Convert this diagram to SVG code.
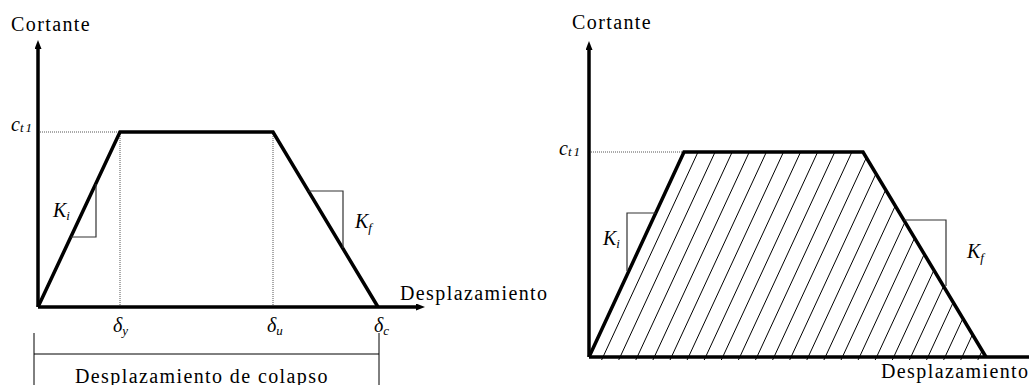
<svg xmlns="http://www.w3.org/2000/svg" width="1029" height="385" viewBox="0 0 1029 385" font-family="'Liberation Serif', 'Times New Roman', 'DejaVu Serif', serif">
<style>
  text { font-family: "Liberation Serif", "Times New Roman", "DejaVu Serif", serif; fill: #000; }
  .lbl { font-size: 20px; letter-spacing: 1.4px; }
  .it { font-size: 20px; font-style: italic; }
  .sub { font-size: 13px; font-style: italic; }
  .axis { stroke: #000; stroke-width: 3.5; fill: none; }
  .thick { stroke: #000; stroke-width: 3.5; fill: none; stroke-linejoin: miter; }
  .thin { stroke: #000; stroke-width: 1; fill: none; }
  .slope { stroke: #333; stroke-width: 1.2; fill: none; }
  .dot { stroke: #555; stroke-width: 1; stroke-dasharray: 1 1; fill: none; }
  .hatch { stroke: #000; stroke-width: 1; }
</style>
<defs>
  <marker id="arr" markerWidth="9" markerHeight="7" refX="0" refY="3.5" orient="auto" markerUnits="userSpaceOnUse">
    <path d="M0,0 L9,3.5 L0,7 z" fill="#000"/>
  </marker>
</defs>

<g id="left-chart">
  <g id="left-axes">
    <line class="axis" x1="38" y1="307" x2="38" y2="49" marker-end="url(#arr)"/>
    <line class="axis" x1="38" y1="307" x2="416" y2="307" marker-end="url(#arr)"/>
  </g>
  <g id="left-guides">
    <line class="dot" x1="40" y1="132" x2="120" y2="132"/>
    <line class="dot" x1="120" y1="132" x2="120" y2="305"/>
    <line class="dot" x1="273" y1="132" x2="273" y2="305"/>
  </g>
  <polyline id="left-curve" class="thick" points="38,307 120,132 273,132 378,307"/>
  <g id="left-slopes">
    <polyline class="slope" points="96,184 96,237 71,237"/>
    <polyline class="slope" points="308,191 343,191 343,248"/>
  </g>
  <g id="left-bracket">
    <line class="thin" x1="34" y1="333" x2="34" y2="385" stroke-width="1.5"/>
    <line class="thin" x1="379" y1="333" x2="379" y2="385" stroke-width="1.5"/>
    <line class="thin" x1="34" y1="354" x2="379" y2="354"/>
  </g>
  <g id="left-labels">
    <text class="lbl" x="11" y="31">Cortante</text>
    <text class="it" x="11" y="131">c<tspan class="sub" dy="1" letter-spacing="2">t1</tspan></text>
    <text class="it" x="53" y="217">K<tspan class="sub" dy="3">i</tspan></text>
    <text class="it" x="355" y="228">K<tspan class="sub" dy="4">f</tspan></text>
    <text class="it" x="113" y="332">δ<tspan class="sub" font-size="11" dy="3">y</tspan></text>
    <text class="it" x="267" y="332">δ<tspan class="sub" font-size="11" dy="3">u</tspan></text>
    <text class="it" x="374" y="332">δ<tspan class="sub" font-size="11" dy="3">c</tspan></text>
    <text class="lbl" x="400" y="300">Desplazamiento</text>
    <text class="lbl" x="75" y="383" letter-spacing="1.2">Desplazamiento de colapso</text>
  </g>
</g>

<g id="right-chart">
  <g id="right-hatch" class="hatch">
    <line x1="601.6" y1="360" x2="698" y2="152"/>
    <line x1="618.7" y1="360" x2="715.1" y2="152"/>
    <line x1="635.8" y1="360" x2="732.2" y2="152"/>
    <line x1="652.9" y1="360" x2="749.3" y2="152"/>
    <line x1="670" y1="360" x2="766.4" y2="152"/>
    <line x1="687.1" y1="360" x2="783.5" y2="152"/>
    <line x1="704.2" y1="360" x2="800.6" y2="152"/>
    <line x1="721.3" y1="360" x2="817.7" y2="152"/>
    <line x1="738.4" y1="360" x2="834.8" y2="152"/>
    <line x1="755.5" y1="360" x2="851.9" y2="152"/>
    <line x1="772.6" y1="360" x2="866.4" y2="157.6"/>
    <line x1="789.7" y1="360" x2="876" y2="173.7"/>
    <line x1="806.8" y1="360" x2="885.7" y2="189.8"/>
    <line x1="823.9" y1="360" x2="895.3" y2="205.9"/>
    <line x1="841" y1="360" x2="905" y2="222"/>
    <line x1="858.1" y1="360" x2="914.6" y2="238"/>
    <line x1="875.2" y1="360" x2="924.3" y2="254.1"/>
    <line x1="892.3" y1="360" x2="933.9" y2="270.2"/>
    <line x1="909.4" y1="360" x2="943.6" y2="286.3"/>
    <line x1="926.5" y1="360" x2="953.2" y2="302.4"/>
    <line x1="943.6" y1="360" x2="962.9" y2="318.4"/>
    <line x1="960.7" y1="360" x2="972.5" y2="334.5"/>
    <line x1="977.8" y1="360" x2="982.2" y2="350.6"/>
  </g>
  <g id="right-axes">
    <line class="axis" x1="589" y1="357" x2="589" y2="50" marker-end="url(#arr)"/>
    <line class="axis" x1="589" y1="357" x2="1029" y2="357"/>
  </g>
  <line id="right-guide" class="dot" x1="591" y1="152" x2="684" y2="152"/>
  <polyline id="right-curve" class="thick" points="589,357 684,152 863,152 986,357"/>
  <g id="right-slopes">
    <polyline class="slope" points="656,213 627,213 627,271"/>
    <polyline class="slope" points="904,220 946,220 946,286"/>
  </g>
  <g id="right-labels">
    <text class="lbl" x="572" y="29">Cortante</text>
    <text class="it" x="559" y="155">c<tspan class="sub" dy="1" letter-spacing="2">t1</tspan></text>
    <text class="it" x="603" y="245">K<tspan class="sub" dy="3">i</tspan></text>
    <text class="it" x="967" y="258">K<tspan class="sub" dy="4">f</tspan></text>
    <text class="lbl" x="881" y="378" letter-spacing="1.1">Desplazamiento</text>
  </g>
</g>
</svg>
